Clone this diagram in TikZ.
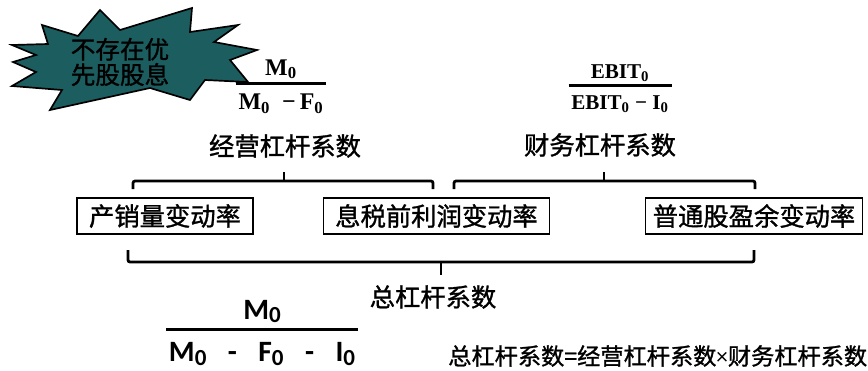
\documentclass[tikz,border=0pt]{standalone}
\usepackage{fontspec}
\setmainfont{Noto Sans CJK SC}[FakeBold=1.2]
\newfontfamily\fracserif{Liberation Serif}
\newfontfamily\fracsans{Carlito}
\usetikzlibrary{positioning}
\definecolor{burstteal}{RGB}{28,94,96}
\setlength{\arrayrulewidth}{2pt}
\newcommand{\levfrac}[2]{\begin{tabular}{@{\hspace{2pt}}c@{\hspace{2pt}}}#1\\[-1pt]\hline\rule{0pt}{1.05em}#2\end{tabular}}
\newcommand{\lowsub}[1]{\raisebox{-0.25ex}{\fontsize{0.78em}{1em}\selectfont #1}}
\tikzset{
  ratebox/.style={draw, line width=1pt, minimum height=25.6pt, inner sep=0pt,
    font=\fontsize{18}{20}\selectfont},
  coeftext/.style={font=\fontsize{18}{20}\selectfont},
  brace/.style={line width=2pt, rounded corners=1.5pt}
}

\begin{document}
\begin{tikzpicture}[x=0.025cm, y=-0.025cm]
  \useasboundingbox (0,0) rectangle (868,370);
  % callout star
  \filldraw[fill=burstteal, draw=black, line width=1.2pt, line join=miter]
    (12,45) -- (48,44) -- (42,25) -- (78,36) -- (100,10) -- (120,30) -- (192,8)
    -- (190,32) -- (238,25) -- (214,42) -- (257,50) -- (230,60) -- (248,82)
    -- (205,80) -- (190,100) -- (150,88) -- (50,110) -- (62,90) -- (12,86)
    -- (36,72) -- (13,62) -- (36,55) -- cycle;
  \node[align=center, font=\fontsize{17.5}{18}\selectfont] (burst) at (120,62) {不存在优\\先股股息};
  % coefficient fractions
  \node[font=\fracserif\bfseries\fontsize{17}{19}\selectfont] (opfrac) at (281,87)
    {\levfrac{M\textsubscript{0}}{M\textsubscript{0} \ −\,F\textsubscript{0}}};
  \node[font=\fracserif\bfseries\fontsize{15}{17}\selectfont] (finfrac) at (620,89)
    {\levfrac{EBIT\textsubscript{0}}{EBIT\textsubscript{0} − I\textsubscript{0}}};
  \node[coeftext] (oplev) at (285,146) {经营杠杆系数};
  \node[coeftext] (finlev) at (600,145) {财务杠杆系数};
  % rate boxes
  \node[ratebox, minimum width=125pt] (sales) at (165,216) {产销量变动率};
  \node[ratebox, minimum width=161pt] (ebit) at (436.5,216) {息税前利润变动率};
  \node[ratebox, minimum width=154pt] (eps) at (754,216) {普通股盈余变动率};
  % braces
  \coordinate (opL) at (133,189);
  \coordinate (opR) at (433,189);
  \coordinate (finL) at (454,189);
  \coordinate (finR) at (755,189);
  \coordinate (totL) at (128,250);
  \coordinate (totR) at (754,250);
  \draw[brace] (opL) -- ++(0,-8) -| (opR);
  \draw[brace] (finL) -- ++(0,-8) -| (finR);
  \draw[brace] (totL) -- ++(0,12) -| (totR);
  \draw[brace] (284,181) -- (284,172);
  \draw[brace] (604,181) -- (604,172);
  \draw[brace] (441,262) -- (441,275);
  % total leverage
  \node[coeftext] (totlev) at (433,297) {总杠杆系数};
  \node[font=\fracsans\bfseries\fontsize{21}{23}\selectfont] (totfrac) at (262,334)
    {\levfrac{M\lowsub{0}}{M\lowsub{0} \enspace- \enspace F\lowsub{0} \enspace- \enspace I\lowsub{0}}};
  \node[anchor=west, inner sep=0pt, font=\fontsize{16.5}{18}\selectfont] (formula) at (448,356)
    {总杠杆系数={}经营杠杆系数{\fracsans ×}财务杠杆系数};
\end{tikzpicture}
\end{document}
